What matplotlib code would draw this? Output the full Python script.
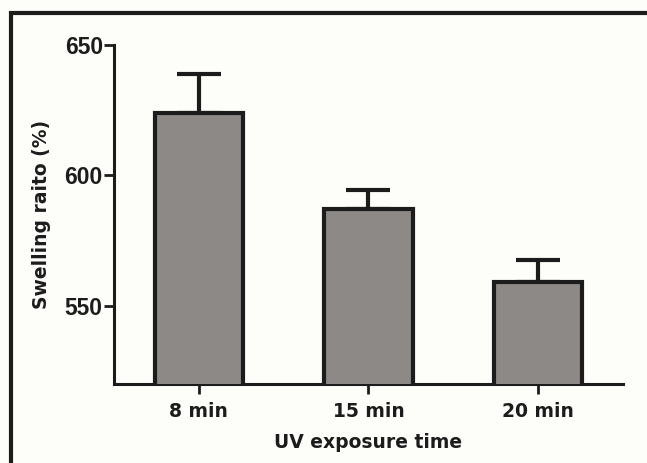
import matplotlib
matplotlib.use('Agg')
from matplotlib import pyplot as plt
from matplotlib.patches import Rectangle

categories = ['8 min', '15 min', '20 min']
swelling = [624, 587, 559]
sem = [15, 7.5, 8.5]

INK = '#1c1c1c'
BAR = '#8c8986'
BG = '#fdfdfa'

fig = plt.figure(figsize=(6.47, 4.63), dpi=100, facecolor=BG)
ax = fig.add_axes([0.176, 0.171, 0.787, 0.732], facecolor=BG)

x = range(len(categories))
ax.bar(x, swelling, width=0.52, color=BAR, edgecolor=INK, linewidth=3, zorder=3)
eb = ax.errorbar(x, swelling, yerr=[[0] * len(sem), sem], fmt='none', ecolor=INK,
                 elinewidth=3, capsize=16, capthick=3, zorder=2)
for cap in eb[1]:
    cap.set_solid_capstyle('round')

ax.set_xlim(-0.5, 2.5)
ax.set_ylim(520, 650)
ax.set_yticks([550, 600, 650])
ax.set_xticks(list(x))
ax.set_xticklabels(categories, fontfamily='DejaVu Sans', fontweight='bold',
                   fontsize=13.5, color=INK)
for lab in ax.get_yticklabels():
    lab.set_fontfamily('Liberation Sans')
    lab.set_fontweight('bold')
    lab.set_fontsize(16.5)
    lab.set_color(INK)

for side in ['top', 'right']:
    ax.spines[side].set_visible(False)
for side in ['left', 'bottom']:
    ax.spines[side].set_linewidth(2.2)
    ax.spines[side].set_color(INK)
ax.tick_params(axis='both', length=7, width=2, color=INK, direction='out')
ax.tick_params(axis='x', pad=6)
ax.tick_params(axis='y', pad=1)

ax.set_ylabel('Swelling raito (%)', fontfamily='DejaVu Sans', fontweight='bold',
              fontsize=13.5, color=INK, labelpad=10)
ax.set_xlabel('UV exposure time', fontfamily='DejaVu Sans', fontweight='bold',
              fontsize=13.5, color=INK, labelpad=9)

# frame around the figure (runs off right and bottom edges)
fig.patches.append(Rectangle((10.5 / 647, -0.2), 1.0, 1.2 - 12.5 / 463,
                             transform=fig.transFigure, fill=False,
                             edgecolor=INK, linewidth=3))

fig.savefig('out.png', dpi=100, facecolor=BG)
